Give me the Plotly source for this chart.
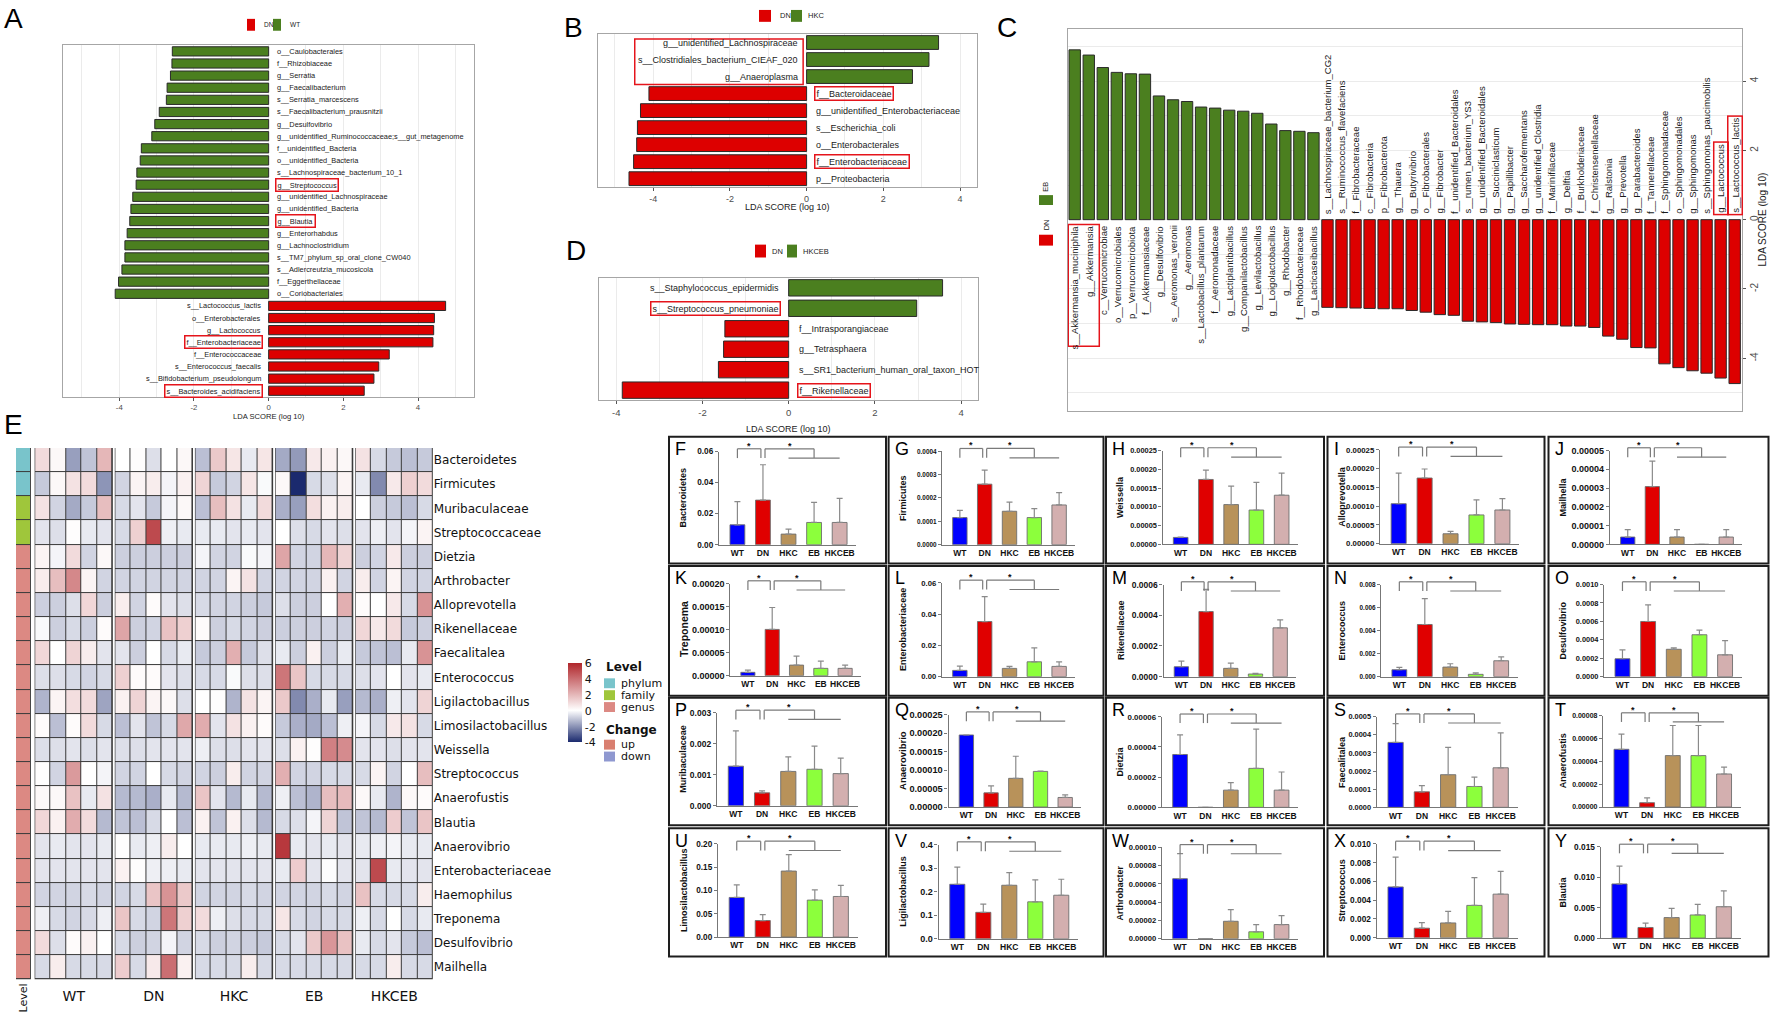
import plotly.graph_objects as go

W, H = 1772, 1018

# ======================= DATA =======================
A_labels = ["o__Caulobacterales", "f__Rhizobiaceae", "g__Serratia", "g__Faecalibacterium",
            "s__Serratia_marcescens", "s__Faecalibacterium_prausnitzii", "g__Desulfovibrio",
            "g__unidentified_Ruminococcaceae;s__gut_metagenome", "f__unidentified_Bacteria",
            "o__unidentified_Bacteria", "s__Lachnospiraceae_bacterium_10_1", "g__Streptococcus",
            "g__unidentified_Lachnospiraceae", "g__unidentified_Bacteria", "g__Blautia",
            "g__Enterorhabdus", "g__Lachnoclostridium", "s__TM7_phylum_sp_oral_clone_CW040",
            "s__Adlercreutzia_mucosicola", "f__Eggerthellaceae", "o__Coriobacteriales",
            "s__Lactococcus_lactis", "o__Enterobacterales", "g__Lactococcus", "f__Enterobacteriaceae",
            "f__Enterococcaceae", "s__Enterococcus_faecalis", "s__Bifidobacterium_pseudolongum",
            "s__Bacteroides_acidifaciens"]
A_scores = [-2.58, -2.59, -2.63, -2.72, -2.74, -2.93, -3.05, -3.13, -3.41, -3.44, -3.53, -3.55,
            -3.64, -3.69, -3.72, -3.79, -3.85, -3.85, -3.93, -4.02, -4.11,
            4.74, 4.44, 4.42, 4.40, 3.23, 2.95, 2.82, 2.56]
A_class = ["WT"] * 21 + ["DN"] * 8
A_boxed = ["g__Streptococcus", "g__Blautia", "f__Enterobacteriaceae", "s__Bacteroides_acidifaciens"]

B_labels = ["g__unidentified_Lachnospiraceae", "s__Clostridiales_bacterium_CIEAF_020", "g__Anaeroplasma",
            "f__Bacteroidaceae", "g__unidentified_Enterobacteriaceae", "s__Escherichia_coli",
            "o__Enterobacterales", "f__Enterobacteriaceae", "p__Proteobacteria"]
B_scores = [3.44, 3.19, 2.76, -4.11, -4.33, -4.41, -4.43, -4.51, -4.63]
B_class = ["HKC"] * 3 + ["DN"] * 6
B_boxed = ["f__Bacteroidaceae", "f__Enterobacteriaceae"]

D_labels = ["s__Staphylococcus_epidermidis", "s__Streptococcus_pneumoniae", "f__Intrasporangiaceae",
            "g__Tetrasphaera", "s__SR1_bacterium_human_oral_taxon_HOT", "f__Rikenellaceae"]
D_scores = [3.57, 2.97, -1.48, -1.51, -1.63, -3.86]
D_class = ["HKCEB"] * 2 + ["DN"] * 4
D_boxed = ["s__Streptococcus_pneumoniae", "f__Rikenellaceae"]

C_labels = ["s__Akkermansia_muciniphila", "g__Akkermansia", "c__Verrucomicrobiae", "o__Verrucomicrobiales",
            "p__Verrucomicrobiota", "f__Akkermansiaceae", "g__Desulfovibrio", "s__Aeromonas_veronii",
            "g__Aeromonas", "s__Lactobacillus_plantarum", "f__Aeromonadaceae", "g__Lactiplantibacillus",
            "g__Companilactobacillus", "g__Levilactobacillus", "g__Loigolactobacillus", "g__Rhodobacter",
            "f__Rhodobacteraceae", "g__Lacticaseibacillus",
            "s__Lachnospiraceae_bacterium_CG2", "s__Ruminococcus_flavefaciens", "f__Fibrobacteraceae",
            "c__Fibrobacteria", "p__Fibrobacterota", "g__Thauera", "g__Butyrivibrio", "o__Fibrobacterales",
            "g__Fibrobacter", "f__unidentified_Bacteroidales", "s__rumen_bacterium_YS3",
            "g__unidentified_Bacteroidales", "g__Succiniclasticum", "g__Papillibacter",
            "g__Saccharofermentans", "g__unidentified_Clostridia", "f__Marinifilaceae", "g__Delftia",
            "f__Burkholderiaceae", "f__Christensenellaceae", "g__Ralstonia", "g__Prevotella",
            "g__Parabacteroides", "f__Tannerellaceae", "f__Sphingomonadaceae", "o__Sphingomonadales",
            "g__Sphingomonas", "s__Sphingomonas_paucimobilis", "g__Lactococcus", "s__Lactococcus_lactis"]
C_scores = [4.90, 4.75, 4.39, 4.25, 4.21, 4.20, 3.57, 3.46, 3.41, 3.25, 3.22, 3.16, 3.13, 3.07, 2.76,
            2.57, 2.55, 2.51,
            -2.53, -2.54, -2.55, -2.56, -2.57, -2.57, -2.62, -2.67, -2.74, -2.76, -2.93, -2.95, -2.97,
            -3.01, -3.02, -3.03, -3.03, -3.07, -3.07, -3.11, -3.36, -3.45, -3.69, -3.70, -4.16, -4.27,
            -4.36, -4.43, -4.57, -4.73]
C_class = ["EB"] * 18 + ["DN"] * 30
C_boxed = ["g__Lactococcus", "s__Lactococcus_lactis"]

heat_groups = ["WT", "DN", "HKC", "EB", "HKCEB"]
heat_rows = ["Bacteroidetes", "Firmicutes", "Muribaculaceae", "Streptococcaceae", "Dietzia", "Arthrobacter",
             "Alloprevotella", "Rikenellaceae", "Faecalitalea", "Enterococcus", "Ligilactobacillus",
             "Limosilactobacillus", "Weissella", "Streptococcus", "Anaerofustis", "Blautia", "Anaerovibrio",
             "Enterobacteriaceae", "Haemophilus", "Treponema", "Desulfovibrio", "Mailhella"]
heat_level = ["phylum", "phylum", "family", "family"] + ["genus"] * 18

heat_WT = [
    [1.0, 0.2, -1.8, -1.1, 2.0], [-1.0, 0.2, 0.8, 1.0, -2.0], [0.8, -0.8, -1.6, -1.0, 1.8],
    [-0.5, -0.6, 0.05, -0.4, -0.5], [0.3, -0.2, 1.0, -0.8, 0.2], [0.5, 1.8, 3.3, 0.3, -0.8],
    [-0.9, -0.9, -0.6, 1.1, -0.9], [-0.1, -0.9, -0.7, -0.9, 0.1], [1.1, 0.0, 1.2, 0.5, -0.5],
    [-0.6, -0.6, -0.7, -0.8, -0.7], [-1.4, 0.3, 0.9, 1.0, -1.7], [0.1, -1.2, 0.1, 1.0, -0.7],
    [-0.6, -0.6, -0.5, -0.6, -0.5], [0.05, -0.8, 2.8, 0.0, -0.2], [0.2, 0.2, 1.7, -0.4, 0.8],
    [1.1, 0.4, 2.3, 1.0, -1.3], [-0.5, -0.4, -0.5, -0.5, -0.4], [-0.5, -0.5, -0.5, -0.5, -0.5],
    [-0.8, -0.8, -0.8, -0.7, -0.8], [-0.3, -0.7, -0.8, -0.7, -0.3], [1.0, -0.6, 0.1, 0.4, 0.0],
    [-0.7, 0.5, -0.7, -0.7, -0.7]]
heat_DN = [
    [0.0, 0.05, -0.6, 0.0, 0.2], [-0.8, 0.3, 0.5, -0.2, 0.4], [-0.7, -0.5, -1.0, -0.2, 0.2],
    [-0.7, 1.3, 5.0, -0.3, -0.4], [-0.9, -0.9, -0.9, -0.9, -0.9], [-0.8, -0.8, -0.8, -0.8, -0.8],
    [0.5, -0.8, 0.1, -0.5, -0.6], [2.5, -0.9, -0.8, 1.7, 1.3], [-0.5, -0.9, 0.0, -0.7, -0.4],
    [1.3, 0.1, 0.1, -0.5, -0.6], [0.4, 1.2, 0.3, 0.2, -0.6], [-1.2, -0.5, -1.1, -0.7, 2.4],
    [-0.6, -0.6, -0.5, -0.5, -0.5], [-0.8, -0.8, 0.0, -0.7, -0.8], [-1.3, -1.3, -1.5, -0.4, -1.3],
    [-1.1, -1.2, -0.7, 0.0, -1.2], [0.05, -0.4, -0.3, 0.5, 0.0], [0.4, 0.05, -0.3, -0.3, -0.4],
    [-0.8, -0.7, 1.6, 3.0, 1.5], [1.6, -0.7, -0.8, 3.8, 1.3], [-0.7, -0.9, -0.8, -0.2, -0.8],
    [1.4, -0.7, 0.6, 4.0, 0.4]]
heat_HKC = [
    [-1.2, 1.5, 0.7, -0.4, 0.7], [1.2, -1.0, -0.8, 0.7, -0.1], [-1.2, 1.8, 0.8, -0.4, 1.0],
    [-0.4, -0.4, -0.5, -0.4, -0.5], [-0.2, -0.8, -0.8, -0.1, -0.2], [-0.8, -0.8, 0.3, 0.8, -0.8],
    [-0.7, -0.8, -0.8, -0.9, -1.0], [0.1, -0.9, -0.7, -0.8, -0.9], [-1.0, -0.9, 2.2, -1.0, -0.6],
    [-0.7, -0.7, -0.1, -0.6, -0.6], [0.0, 0.05, -1.4, 0.8, 0.3], [2.3, -0.5, 0.8, 0.4, 0.1],
    [-0.3, -0.6, -0.6, -0.5, -0.5], [-0.8, -0.9, 0.5, -0.8, -0.8], [1.6, -0.5, -1.3, -0.4, -1.3],
    [0.4, -1.1, 0.4, -0.6, -1.3], [-0.4, -0.4, -0.4, -0.3, -0.4], [-0.5, -0.5, -0.5, -0.5, -0.5],
    [-0.8, -0.8, -0.8, -0.7, -0.8], [1.0, -0.3, -0.6, -0.7, -0.7], [-0.7, -0.9, -0.8, -0.9, -1.0],
    [-0.7, -0.7, -0.7, 0.5, -0.7]]
heat_EB = [
    [-1.6, -1.9, 0.6, 0.4, 0.2], [0.2, -4.0, -0.7, -0.6, 0.3], [-1.5, -1.8, 0.9, 0.4, 0.5],
    [0.0, -0.6, -0.7, -0.5, -0.6], [2.5, -0.8, -0.8, 2.0, 1.2], [-0.8, -0.8, -0.8, 0.4, -0.8],
    [-0.6, -0.9, -0.9, 0.0, 2.2], [-0.9, -0.9, -0.9, -0.8, -0.9], [-0.4, -0.9, 0.4, -0.9, -0.4],
    [3.8, 1.6, -0.7, -0.7, -0.7], [1.5, -2.2, -1.5, -0.4, -1.8], [-1.0, -1.5, -1.6, -1.2, -0.3],
    [-0.6, 0.4, 0.05, 3.5, 3.2], [2.2, -0.8, -0.8, -0.7, -0.7], [-0.3, -1.2, -1.4, 1.8, 1.9],
    [-0.7, -0.6, -0.2, 1.2, -1.1], [5.5, -0.4, -0.5, -0.4, -0.5], [-0.4, 1.4, -0.5, -0.05, -0.5],
    [-0.8, -0.8, -0.8, -0.7, -0.8], [0.7, -0.7, -0.8, -0.7, -0.7], [-0.7, -0.5, 1.5, 2.9, 1.7],
    [-0.7, -0.7, -0.7, -0.7, -0.7]]
heat_HKCEB = [
    [0.8, -0.7, -1.0, -1.2, -1.0], [-0.4, -2.2, 0.6, 1.3, 1.0], [0.0, -0.9, -1.0, -1.2, -0.7],
    [-0.5, -0.3, -0.5, -0.2, 0.3], [-0.9, -0.8, 0.6, -0.9, -0.9], [0.5, -0.8, 0.3, -0.8, -0.8],
    [0.1, 0.0, 0.6, -0.7, 3.0], [1.1, 0.6, 1.0, -1.0, -0.9], [-1.0, -1.1, -1.2, -0.4, 3.0],
    [-0.6, -0.5, 0.0, -0.5, -0.4], [-1.3, -1.5, -0.3, -0.5, 1.2], [-0.2, -0.7, 0.6, 0.8, -0.7],
    [-0.5, -0.5, -0.6, -0.5, -0.5], [-0.7, 0.3, -0.8, 0.0, 1.8], [0.2, -0.4, -1.4, 0.2, 0.1],
    [-1.1, -1.3, 1.4, -1.1, 1.6], [-0.4, -0.3, -0.2, -0.4, -0.4], [-0.5, 5.0, -0.4, -0.5, -0.5],
    [1.7, -0.7, -0.7, -0.7, 0.5], [-0.3, -0.7, 0.0, -0.7, -0.4], [-0.4, -0.7, -0.5, -1.0, -1.2],
    [-0.7, -0.7, 0.5, -0.7, -0.7]]

bar_groups = ["WT", "DN", "HKC", "EB", "HKCEB"]
bar_letters = list("FGHIJKLMNOPQRSTUVWXY")
bar_taxa = ["Bacteroidetes", "Firmicutes", "Weissella", "Alloprevotella", "Mailhella",
            "Treponema", "Enterobacteriaceae", "Rikenellaceae", "Enterococcus", "Desulfovibrio",
            "Muribaculaceae", "Anaerovibrio", "Dietzia", "Faecalitalea", "Anaerofustis",
            "Limosilactobacillus", "Ligilactobacillus", "Arthrobacter", "Streptococcus", "Blautia"]
bar_means = [
    [0.0128, 0.0287, 0.0068, 0.0143, 0.0143],
    [0.000116, 0.000259, 0.000143, 0.000116, 0.00017],
    [0.0000185, 0.000173, 0.000106, 0.0000915, 0.000131],
    [0.0001065, 0.000175, 0.0000264, 0.0000766, 0.0000898],
    [0.0000039, 0.0000308, 0.0000039, 0.0, 0.0000039],
    [0.0000072, 0.0001004, 0.0000229, 0.0000158, 0.0000158],
    [0.004, 0.0353, 0.00528, 0.0095, 0.00655],
    [0.0000645, 0.000424, 0.000054, 0.000017, 0.000318],
    [0.0006, 0.00453, 0.00083, 0.0002, 0.00138],
    [0.000194, 0.000599, 0.000297, 0.000455, 0.000237],
    [0.00128, 0.000417, 0.00111, 0.00118, 0.00104],
    [0.000195, 0.0000384, 0.0000777, 0.0000964, 0.0000259],
    [0.000035, 0.0, 0.0000114, 0.0000258, 0.0000114],
    [0.000358, 0.0000855, 0.00018, 0.000115, 0.000218],
    [0.0000505, 0.0000038, 0.000045, 0.000045, 0.0000289],
    [0.0851, 0.0355, 0.1418, 0.0794, 0.0872],
    [0.2316, 0.1123, 0.2274, 0.157, 0.185],
    [0.0000657, 0.0, 0.0000191, 0.0000076, 0.0000155],
    [0.00542, 0.00102, 0.00158, 0.00345, 0.00465],
    [0.00891, 0.00174, 0.00337, 0.0038, 0.00516]]
bar_tops = [
    [0.0277, 0.0515, 0.0100, 0.0272, 0.0298],
    [0.000147, 0.000319, 0.000182, 0.000154, 0.000223],
    [0.0000195, 0.000198, 0.000155, 0.000165, 0.00019],
    [0.000188, 0.000199, 0.0000326, 0.000117, 0.00012],
    [0.0000079, 0.0000444, 0.0000079, 0.0, 0.0000079],
    [0.0000122, 0.000148, 0.0000423, 0.0000315, 0.0000229],
    [0.00676, 0.0513, 0.00655, 0.0184, 0.0095],
    [0.000101, 0.000568, 0.000088, 0.000022, 0.00037],
    [0.0008, 0.00677, 0.00112, 0.00032, 0.00172],
    [0.00029, 0.00078, 0.000312, 0.000505, 0.00039],
    [0.00242, 0.00048, 0.00158, 0.00193, 0.00154],
    [0.000195, 0.0000571, 0.0001375, 0.0000975, 0.000033],
    [0.000048, 0.0, 0.0000164, 0.0000518, 0.0000234],
    [0.000462, 0.00012, 0.000331, 0.000167, 0.000411],
    [0.0000638, 0.0000081, 0.0000713, 0.0000713, 0.0000349],
    [0.112, 0.0482, 0.177, 0.1014, 0.111],
    [0.3046, 0.147, 0.281, 0.25, 0.253],
    [0.0000931, 0.0, 0.0000318, 0.0000155, 0.0000253],
    [0.00859, 0.00162, 0.00282, 0.00641, 0.00708],
    [0.01185, 0.00245, 0.00489, 0.00554, 0.00777]]
bar_ymax = [0.06, 0.0004, 0.00025, 0.00025, 0.00005, 0.0002, 0.06, 0.0006, 0.008, 0.001,
            0.003, 0.00025, 0.00006, 0.0005, 0.00008, 0.2, 0.4, 0.0001, 0.01, 0.015]
bar_dtick = [0.02, 0.0001, 0.00005, 0.00005, 0.00001, 0.00005, 0.02, 0.0002, 0.002, 0.0002,
             0.001, 0.00005, 0.00002, 0.0001, 0.00002, 0.05, 0.1, 0.00002, 0.002, 0.005]
bar_decimals = [2, 4, 5, 5, 5, 5, 2, 4, 3, 4, 3, 5, 5, 4, 5, 2, 1, 5, 3, 3]

# ======================= STYLE / LAYOUT HELPERS =======================
ARIAL = "Liberation Sans, Arial, sans-serif"
DEJAVU = "DejaVu Sans, sans-serif"
RED, GREEN = "#DD0000", "#4B7F1F"
CLASS_COLOR = {"DN": RED, "WT": GREEN, "HKC": GREEN, "HKCEB": GREEN, "EB": GREEN}
BAR_COLORS = ["#0000FF", "#E00000", "#B8925A", "#8CFF3C", "#D3AFAF"]
BOXRED = "#E5141B"

layout = dict(width=W, height=H, margin=dict(l=0, r=0, t=0, b=0), paper_bgcolor="white",
              plot_bgcolor="rgba(0,0,0,0)", showlegend=False)
anns, shapes, traces = [], [], []
axn = [0]


def add_axes(xpx, ypx, xa, ya):
    axn[0] += 1
    n = axn[0]
    s = "" if n == 1 else str(n)
    xa = dict(xa)
    ya = dict(ya)
    xa.update(domain=[xpx[0] / W, xpx[1] / W], anchor="y" + s)
    ya.update(domain=[1 - ypx[1] / H, 1 - ypx[0] / H], anchor="x" + s)
    layout["xaxis" + s] = xa
    layout["yaxis" + s] = ya
    return "x" + s, "y" + s


def txt(x, y, text, size, family=ARIAL, color="#000", xanchor="center", yanchor="middle", angle=0, **kw):
    anns.append(dict(x=x / W, y=1 - y / H, xref="paper", yref="paper", text=text, showarrow=False,
                     xanchor=xanchor, yanchor=yanchor, textangle=angle,
                     font=dict(family=family, size=size, color=color), **kw))


def rect(x0, y0, x1, y1, fill=None, line=None, lw=1.0, layer="above"):
    shapes.append(dict(type="rect", xref="paper", yref="paper", x0=x0 / W, x1=x1 / W, y0=1 - y1 / H,
                       y1=1 - y0 / H, fillcolor=fill or "rgba(0,0,0,0)",
                       line=dict(color=line or "rgba(0,0,0,0)", width=lw if line else 0), layer=layer))


GRID = "#EBEBEB"
FRAME = "#A6A6A6"


def lefse_h(labels, scores, classes, boxed, xpx, ypx, xr, lab_size, tick_size, bar_w, shift):
    n = len(labels)
    xa, ya = add_axes(
        xpx, ypx,
        dict(range=xr, tickmode="array", tickvals=[-4, -2, 0, 2, 4], ticktext=["-4", "-2", "0", "2", "4"],
             showgrid=True, gridcolor=GRID, gridwidth=1,
             minor=dict(tickmode="linear", tick0=0, dtick=1, showgrid=True, gridcolor=GRID, ticks=""),
             zeroline=False, showline=True, mirror=True, linecolor=FRAME, linewidth=1,
             ticks="outside", ticklen=3, tickcolor="#555",
             tickfont=dict(family=ARIAL, size=tick_size, color="#4D4D4D")),
        dict(range=[n - 0.5, -0.5], showticklabels=False, showgrid=False, zeroline=False, showline=True,
             mirror=True, linecolor=FRAME, linewidth=1, ticks=""))
    traces.append(go.Bar(x=scores, y=list(range(n)), orientation="h", width=bar_w,
                         marker=dict(color=[CLASS_COLOR[c] for c in classes], line=dict(color="#2A2A2A", width=1)),
                         xaxis=xa, yaxis=ya, hoverinfo="skip"))
    for i, (lab, s) in enumerate(zip(labels, scores)):
        right = s < 0
        extra = {}
        if lab in boxed:
            extra = dict(bordercolor=BOXRED, borderwidth=1.5, borderpad=1)
        anns.append(dict(x=0, y=i, xref=xa, yref=ya, text=lab, showarrow=False,
                         xanchor="left" if right else "right", yanchor="middle",
                         xshift=shift if right else -shift,
                         font=dict(family=ARIAL, size=lab_size, color="#1A1A1A"), **extra))
    return xa, ya


def legend_pair(x_red, x_green, y0, y1, lab_red, lab_green, size, tx_red, tx_green):
    rect(x_red[0], y0, x_red[1], y1, fill=RED)
    rect(x_green[0], y0, x_green[1], y1, fill=GREEN)
    yc = (y0 + y1) / 2
    txt(tx_red, yc, lab_red, size, color="#222", xanchor="left")
    txt(tx_green, yc, lab_green, size, color="#222", xanchor="left")


# ======================= PANEL A =======================
lefse_h(A_labels, A_scores, A_class, A_boxed, (63.3, 474), (40.7, 395.7), [-5.5, 5.5], 7.4, 7.8, 0.76, 6)
txt(268.7, 415.5, "LDA SCORE (log 10)", 7.6, color="#222")
legend_pair((247, 255), (273, 281), 14, 26, "DN", "WT", 6.5, 261.5, 287.5)
txt(13, 13.5, "A", 28)

# ======================= PANEL B =======================
bx, by = lefse_h(B_labels, B_scores, B_class, B_boxed, (598.3, 977.3), (29.3, 184), [-5.43, 4.45],
                 9, 9, 0.81, 7)
shapes.append(dict(type="rect", xref=bx, yref=by, x0=-4.48, x1=-0.09, y0=-0.21, y1=2.47,
                   line=dict(color=BOXRED, width=1.5), fillcolor="rgba(0,0,0,0)", layer="above"))
txt(787.8, 203.5, "LDA SCORE (log 10)", 9, color="#222")
legend_pair((759, 771), (791, 802), 5, 17, "DN", "HKC", 7.5, 778, 806)
txt(573, 22.7, "B", 28)

# ======================= PANEL D =======================
lefse_h(D_labels, D_scores, D_class, D_boxed, (599, 977.7), (275.3, 399.3), [-4.40, 4.385], 9, 9.5, 0.8, 8)
txt(788.4, 428.5, "LDA SCORE (log 10)", 9, color="#222")
legend_pair((755, 766), (787, 797), 242, 255, "DN", "HKCEB", 7.5, 770, 801)
txt(576, 248, "D", 28)

# ======================= PANEL C =======================
nC = len(C_labels)
cx, cy = add_axes(
    (1067.7, 1741.7), (24.3, 410),
    dict(range=[-0.5, nC - 0.5], showticklabels=False, showgrid=False, zeroline=False, showline=True,
         mirror=True, linecolor=FRAME, linewidth=1, ticks=""),
    dict(range=[-5.52, 5.5], side="right", tickmode="array", tickvals=[-4, -2, 0, 2, 4],
         ticktext=["-4", "-2", "0", "2", "4"], tickangle=-90, showgrid=True, gridcolor=GRID,
         minor=dict(tickmode="linear", tick0=0, dtick=1, showgrid=True, gridcolor=GRID, ticks=""),
         zeroline=False, showline=True, mirror=True, linecolor=FRAME, linewidth=1, ticks="outside",
         ticklen=3, tickcolor="#555", tickfont=dict(family=ARIAL, size=10, color="#4D4D4D")))
traces.append(go.Bar(x=list(range(nC)), y=C_scores, width=0.81,
                     marker=dict(color=[CLASS_COLOR[c] for c in C_class], line=dict(color="#2A2A2A", width=1)),
                     xaxis=cx, yaxis=cy, hoverinfo="skip"))
for i, (lab, s) in enumerate(zip(C_labels, C_scores)):
    extra = {}
    if lab in C_boxed and s < 0:
        extra = dict(bordercolor=BOXRED, borderwidth=1.5, borderpad=1)
    anns.append(dict(x=i, y=0, xref=cx, yref=cy, text=lab, showarrow=False, textangle=-90,
                     xanchor="center", yanchor="top" if s > 0 else "bottom", yshift=-4 if s > 0 else 4,
                     font=dict(family=ARIAL, size=9.5, color="#1A1A1A"), **extra))
shapes.append(dict(type="rect", xref=cx, yref=cy, x0=-0.46, x1=1.75, y0=-3.65, y1=-0.14,
                   line=dict(color=BOXRED, width=1.5), fillcolor="rgba(0,0,0,0)", layer="above"))
txt(1763, 216.7, "LDA SCORE (log 10)", 10, color="#222", angle=-90)
rect(1039, 192, 1053, 202, fill=GREEN)
rect(1039, 232, 1053, 243, fill=RED)
txt(1046, 183.5, "EB", 7.5, color="#222", angle=-90)
txt(1046, 222.5, "DN", 7.5, color="#222", angle=-90)
txt(1007, 23, "C", 28)

# ======================= PANEL E (heatmap) =======================
g_start = [1.25 + g * 5.205 for g in range(5)]
hx, hy = add_axes(
    (16, 432.8), (447.4, 984),
    dict(range=[0, 27.07], tickmode="array", tickvals=[s + 2.5 for s in g_start], ticktext=heat_groups,
         showgrid=False, zeroline=False, showline=False, ticks="", ticklabelstandoff=7,
         tickfont=dict(family=DEJAVU, size=14, color="#111")),
    dict(range=[21.5, -0.5], tickmode="array", tickvals=list(range(len(heat_rows))), ticktext=heat_rows,
         side="right", showgrid=False, zeroline=False, showline=False, ticks="",
         tickfont=dict(family=DEJAVU, size=12, color="#111")))
level_code = {"phylum": 0, "family": 1, "genus": 2}
shapes.append(dict(type="rect", xref=hx, yref=hy, x0=-0.02, x1=0.97, y0=-0.53, y1=21.53,
                   fillcolor="#3A3A3A", line=dict(width=0), layer="below"))
traces.append(go.Heatmap(z=[[level_code[l]] for l in heat_level], x0=0.475, dx=0.95, y0=0, dy=1,
                         zmin=0, zmax=2, showscale=False, xgap=1, ygap=1,
                         colorscale=[[0, "#79C4CB"], [0.3333, "#79C4CB"], [0.3334, "#9FC63B"],
                                     [0.6666, "#9FC63B"], [0.6667, "#DC8983"], [1, "#DC8983"]],
                         xaxis=hx, yaxis=hy, hoverinfo="skip"))
for g, vals in enumerate([heat_WT, heat_DN, heat_HKC, heat_EB, heat_HKCEB]):
    s0 = g_start[g]
    shapes.append(dict(type="rect", xref=hx, yref=hy, x0=s0 - 0.04, x1=s0 + 5.04, y0=-0.53, y1=21.53,
                       fillcolor="#3A3A3A", line=dict(width=0), layer="below"))
    traces.append(go.Heatmap(z=vals, x0=s0 + 0.5, dx=1, y0=0, dy=1, coloraxis="coloraxis",
                             xgap=1, ygap=1, xaxis=hx, yaxis=hy, hoverinfo="skip"))
layout["coloraxis"] = dict(
    cmin=-4, cmax=6,
    colorscale=[[0, "#1B2A6E"], [0.4, "#FFFFFF"], [1, "#B0262B"]],
    colorbar=dict(x=568 / W, xanchor="left", y=1 - 665 / H, yanchor="top", len=79, lenmode="pixels",
                  thickness=14, thicknessmode="pixels", xpad=0, ypad=0, outlinewidth=0,
                  tickmode="array", tickvals=[-4, -2, 0, 2, 4, 6], ticktext=["-4", "-2", "0", "2", "4", "6"],
                  ticks="", tickfont=dict(family=DEJAVU, size=11, color="#111")))
txt(23.3, 1003, "Level", 11, family=DEJAVU, color="#111", angle=-90)
txt(13, 423.7, "E", 28)
# Level / Change legend
txt(604, 669, "<b>Level</b>", 12, family=DEJAVU, color="#111", xanchor="left")
for k, (nm, col) in enumerate([("phylum", "#79C4CB"), ("family", "#9FC63B"), ("genus", "#DC8983")]):
    y0 = 680 + k * 12
    rect(604, y0, 615, y0 + 10, fill=col)
    txt(619, y0 + 5, nm, 11, family=DEJAVU, color="#111", xanchor="left")
txt(604, 732, "<b>Change</b>", 12, family=DEJAVU, color="#111", xanchor="left")
for k, (nm, col) in enumerate([("up", "#D97F70"), ("down", "#8F98D0")]):
    y0 = 742 + k * 12
    rect(604, y0, 615, y0 + 10, fill=col)
    txt(619, y0 + 5, nm, 11, family=DEJAVU, color="#111", xanchor="left")

# ======================= PANELS F-Y =======================
cols_x = [(669, 886), (888.6, 1103.5), (1106, 1324), (1327.5, 1544.5), (1548.5, 1768.5)]
rows_y = [(436, 564), (566.5, 697.5), (699.5, 828.5), (831.5, 961)]
ax_x = [(719, 856), (942, 1075), (1162.5, 1297.8), (1380, 1519), (1610, 1742),
        (730.4, 860.7), (942, 1075), (1163.6, 1296), (1381, 1517.5), (1604, 1741.5),
        (717, 857.5), (948.6, 1081), (1161.8, 1297.8), (1376.7, 1517.5), (1603, 1740.5),
        (718, 857.5), (938.6, 1077.9), (1161.8, 1297.8), (1376.7, 1517.5), (1600.7, 1740.5)]
ax_y = [(451, 545), (450.7, 545), (450, 544.7), (449.3, 544), (450, 544.7),
        (584.3, 677.3), (583.7, 678.3), (585.3, 678.3), (585.3, 678.3), (585.3, 678.3),
        (715, 808.7), (716.7, 810), (718.8, 810.3), (718.7, 810.3), (717.6, 810),
        (847.3, 941.3), (848, 943), (850.7, 943), (847.3, 942), (850.3, 942.3)]
tick_fs = [8.2, 6.4, 7.4, 7.8, 9.0, 9.0, 7.7, 8.5, 6.4, 7.4, 8.5, 9.2, 7.9, 7.4, 7.0, 8.2, 9.0, 7.6, 8.3, 8.3]
title_fs = [9, 9, 9, 9, 9, 10.5, 9, 9, 9, 9, 9, 9.5, 9, 9, 9, 9, 9, 9, 9, 9]
XR = [-0.72, 4.64]
AXC = "#777777"


def dfx(v):
    return (v - XR[0]) / (XR[1] - XR[0])


for k in range(20):
    r, c = divmod(k, 5)
    fx0, fx1 = cols_x[c]
    fy0, fy1 = rows_y[r]
    dec = bar_decimals[k]
    xa, ya = add_axes(
        ax_x[k], ax_y[k],
        dict(range=XR, tickmode="array", tickvals=list(range(5)), ticktext=bar_groups, ticks="",
             showgrid=False, zeroline=False, showline=True, linecolor=AXC, linewidth=1.3,
             tickfont=dict(family=ARIAL, size=8.5, color="#111", weight="bold")),
        dict(range=[0, bar_ymax[k]], tickmode="linear", tick0=0, dtick=bar_dtick[k],
             tickformat=".%df" % dec, ticks="outside", ticklen=3, tickwidth=1, tickcolor=AXC,
             showgrid=False, zeroline=False, showline=True, linecolor=AXC, linewidth=1.3,
             tickfont=dict(family=ARIAL, size=tick_fs[k], color="#111", weight="bold")))
    means = bar_means[k]
    plus = [max(t - m, 0) for t, m in zip(bar_tops[k], means)]
    traces.append(go.Bar(x=list(range(5)), y=means, width=0.58,
                         marker=dict(color=BAR_COLORS, line=dict(color="#6E6E6E", width=0.9)),
                         error_y=dict(type="data", symmetric=False, array=plus, arrayminus=[0] * 5,
                                      color="#8A8A8A", thickness=1.2, width=3),
                         xaxis=xa, yaxis=ya, hoverinfo="skip", cliponaxis=False))
    # significance brackets
    xd, yd = xa + " domain", ya + " domain"
    ytop, ylow = 1.03, 0.93
    segs = [
        (0, ylow, 0, ytop), (0, ytop, 0.92, ytop), (0.92, ytop, 0.92, ylow),
        (1.08, ylow, 1.08, ytop), (1.08, ytop, 3, ytop), (3, ytop, 3, ylow), (2, ylow, 4, ylow)]
    for (a0, b0, a1, b1) in segs:
        shapes.append(dict(type="line", xref=xd, yref=yd, x0=dfx(a0), y0=b0, x1=dfx(a1), y1=b1,
                           line=dict(color="#7A7A7A", width=1.2), layer="above"))
    for xs in (0.46, 2.04):
        anns.append(dict(x=dfx(xs), y=ytop, xref=xd, yref=yd, text="<b>*</b>", showarrow=False,
                         xanchor="center", yanchor="bottom", yshift=-4,
                         font=dict(family=ARIAL, size=9, color="#111")))
    # y title
    txt(fx0 + 14.5, (ax_y[k][0] + ax_y[k][1]) / 2, "<b>%s</b>" % bar_taxa[k], title_fs[k],
        color="#111", angle=-90)
    # letter
    txt(fx0 + 4, fy0 + 12.5, bar_letters[k], 18, color="#000", xanchor="left")
    # frame
    rect(fx0, fy0, fx1, fy1, line="#1E1E1E", lw=2)

layout["annotations"] = anns
layout["shapes"] = shapes
fig = go.Figure(data=traces, layout=layout)
fig.write_html("out.html", config={"displayModeBar": False},
               post_script="document.body.style.margin='0';document.body.style.overflow='hidden';")
